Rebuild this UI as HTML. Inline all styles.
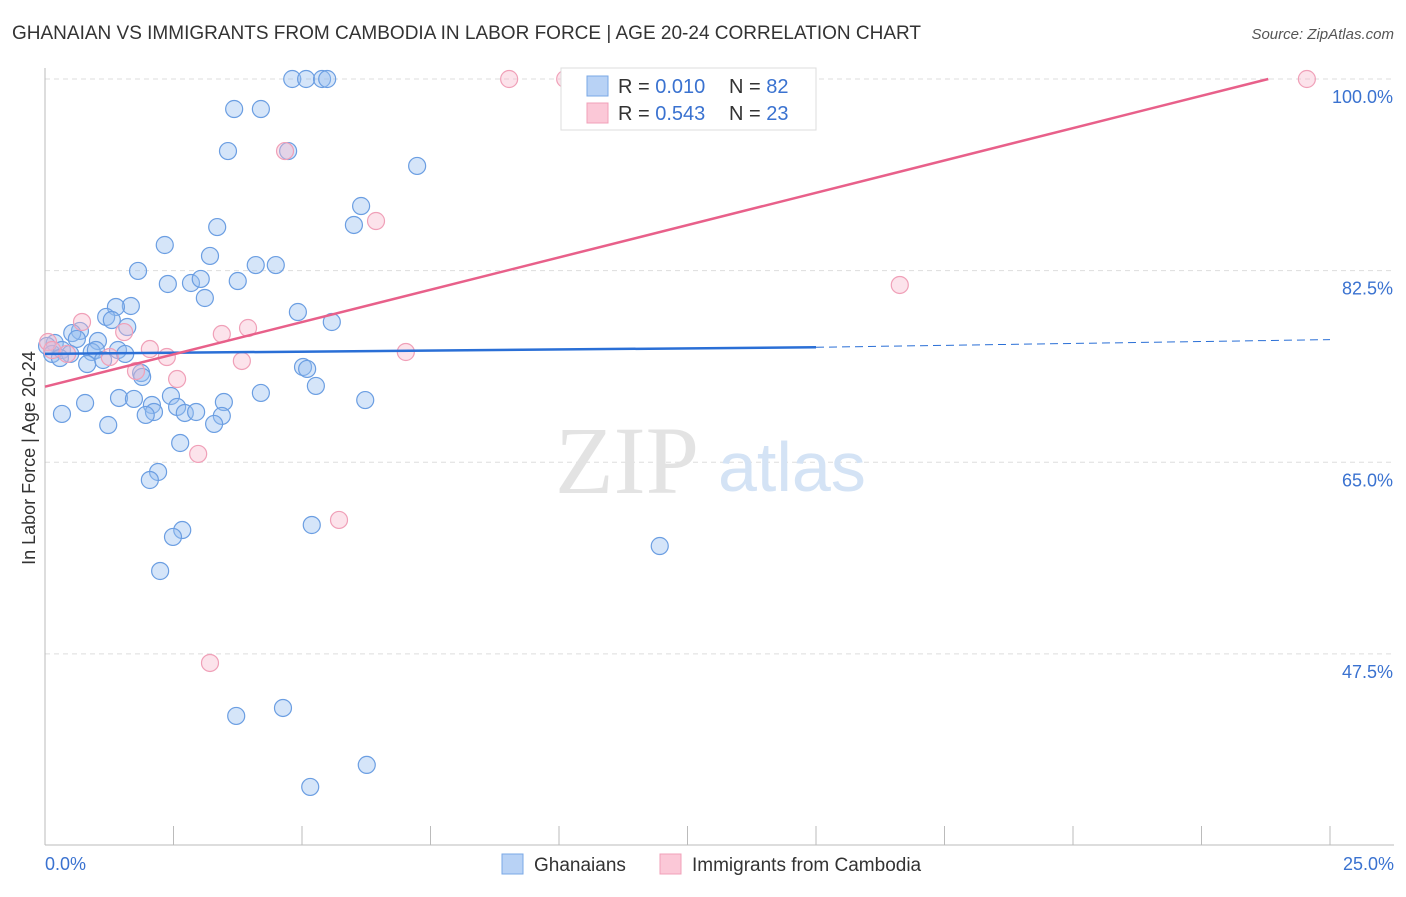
<!DOCTYPE html>
<html><head><meta charset="utf-8"><style>
body{margin:0;background:#fff;font-family:"Liberation Sans",sans-serif;}
svg text{font-family:"Liberation Sans",sans-serif;}
</style></head><body>
<svg id="chart" width="1406" height="892">
<text x="12" y="39" font-size="19" fill="#333">GHANAIAN VS IMMIGRANTS FROM CAMBODIA IN LABOR FORCE | AGE 20-24 CORRELATION CHART</text>
<text x="1394" y="39" font-size="15" fill="#555" font-style="italic" text-anchor="end">Source: ZipAtlas.com</text>
<text x="35" y="458" font-size="18" fill="#333" text-anchor="middle" transform="rotate(-90 35 458)">In Labor Force | Age 20-24</text>
<g id="grid"></g><g id="xt"></g>
<text x="555" y="493" font-size="96" fill="#e3e3e3" style="font-family:'Liberation Serif',serif">ZIP</text>
<text x="718" y="491" font-size="70" fill="#d4e3f5">atlas</text>
<g id="pts"></g><g id="lines"></g>
<g>
<rect x="561" y="68" width="255" height="62" fill="#fff" stroke="#ddd"/>
<rect x="587" y="76" width="21" height="20" fill="#b8d2f5" stroke="#7aa8e6"/>
<text x="618" y="93" font-size="20" fill="#333">R = <tspan fill="#3a72d0">0.010</tspan></text>
<text x="729" y="93" font-size="20" fill="#333">N = <tspan fill="#3a72d0">82</tspan></text>
<rect x="587" y="103" width="21" height="20" fill="#fbc8d7" stroke="#f0a0b8"/>
<text x="618" y="120" font-size="20" fill="#333">R = <tspan fill="#3a72d0">0.543</tspan></text>
<text x="729" y="120" font-size="20" fill="#333">N = <tspan fill="#3a72d0">23</tspan></text>
</g>
<g>
<rect x="502" y="854" width="21" height="20" fill="#b8d2f5" stroke="#7aa8e6"/>
<text x="534" y="871" font-size="19" fill="#333">Ghanaians</text>
<rect x="660" y="854" width="21" height="20" fill="#fbc8d7" stroke="#f0a0b8"/>
<text x="692" y="871" font-size="19" fill="#333">Immigrants from Cambodia</text>
</g>
<text x="45" y="870" font-size="18" fill="#3a72d0">0.0%</text>
<text x="1394" y="870" font-size="18" fill="#3a72d0" text-anchor="end">25.0%</text>
</svg>
<script>
const yTicks=[100,82.5,65,47.5];
const yTickLabels=["100.0%","82.5%","65.0%","47.5%"];
const xTicks=[0,2.5,5,7.5,10,12.5,15,17.5,20,22.5,25];
const blueX=[4.81,5.08,5.39,5.49,3.68,4.20,3.56,4.73,7.24,6.15,6.01,3.35,2.33,3.21,1.81,2.39,2.84,3.03,4.10,4.49,3.75,3.11,1.67,1.38,4.92,1.19,1.30,1.60,5.58,0.68,0.53,1.03,0.62,0.19,0.04,0.14,0.33,0.49,0.91,0.99,1.42,1.56,1.13,0.29,0.82,5.02,5.10,1.87,1.89,5.27,4.20,1.44,1.73,2.45,2.08,2.57,2.12,1.96,2.72,2.94,3.48,3.44,6.23,0.78,0.33,1.23,3.29,2.63,2.20,2.04,2.67,2.49,5.19,11.96,2.24,3.72,4.63,6.26,5.16];
const blueY=[100,100,100,100,97.26,97.26,93.42,93.42,92.06,88.40,86.67,86.48,84.84,83.84,82.47,81.28,81.37,81.74,83.01,83.01,81.55,80.00,79.27,79.18,78.72,78.27,77.99,77.35,77.81,76.99,76.80,76.07,76.26,75.89,75.62,74.89,75.25,74.89,75.07,75.25,75.25,74.89,74.34,74.52,73.97,73.70,73.52,73.15,72.79,71.97,71.33,70.87,70.78,71.05,70.23,70.05,69.59,69.32,69.50,69.59,70.50,69.23,70.68,70.41,69.41,68.40,68.50,66.76,64.11,63.38,58.81,58.18,59.27,57.35,55.07,41.83,42.56,37.36,35.35];
const pinkX=[9.03,10.12,24.55,4.67,6.44,16.63,0.72,1.54,0.06,0.14,0.43,2.04,2.37,3.44,3.95,3.83,7.02,1.77,2.57,2.98,5.72,3.21,1.26];
const pinkY=[100,100,100,93.42,87.03,81.19,77.81,76.89,75.98,75.25,74.89,75.34,74.61,76.71,77.26,74.25,75.07,73.33,72.60,65.76,59.73,46.67,74.61];
const blueTrend=[[0,74.9],[15,75.5],[25,76.2]];
const pinkTrend=[[0,71.9],[23.8,100]];
const X=v=>45+v/25*1285, Y=v=>79+(100-v)*10.95;
const NS="http://www.w3.org/2000/svg";
function mk(t,a,p){const e=document.createElementNS(NS,t);for(const k in a)e.setAttribute(k,a[k]);p.appendChild(e);return e;}
const grid=document.getElementById('grid');
yTicks.forEach((t,i)=>{
 const l=mk('line',{x1:45,x2:1394,y1:Y(t),y2:Y(t),stroke:'#ddd','stroke-dasharray':'5,4'},grid);
 
 
 const tx=mk('text',{x:1393,y:Y(t)+24,'font-size':18,fill:'#3a72d0','text-anchor':'end'},grid);
 tx.textContent=yTickLabels[i];
 
 
});
const xt=document.getElementById('xt');
mk('line',{x1:45,x2:45,y1:68,y2:845,stroke:'#bbb'},xt);
mk('line',{x1:45,x2:1394,y1:845,y2:845,stroke:'#bbb'},xt);
xTicks.forEach(t=>{const l=mk('line',{x1:X(t),x2:X(t),y1:826,y2:845,stroke:'#bbb'},xt);
 
 });
const pts=document.getElementById('pts');
blueX.forEach((v,i)=>{const c=mk('circle',{cx:X(v),cy:Y(blueY[i]),r:8.5,fill:'rgba(150,190,240,0.4)',stroke:'#6b9ee2','stroke-width':1.2},pts);
 
 });
pinkX.forEach((v,i)=>{const c=mk('circle',{cx:X(v),cy:Y(pinkY[i]),r:8.5,fill:'rgba(248,185,205,0.4)',stroke:'#f0a0b8','stroke-width':1.2},pts);
 
 });
const lines=document.getElementById('lines');
const b1=mk('line',{x1:X(blueTrend[0][0]),y1:Y(blueTrend[0][1]),x2:X(blueTrend[1][0]),y2:Y(blueTrend[1][1]),stroke:'#2a6fd6','stroke-width':2.5},lines);


const b2=mk('line',{x1:X(blueTrend[1][0]),y1:Y(blueTrend[1][1]),x2:X(blueTrend[2][0]),y2:Y(blueTrend[2][1]),stroke:'#2a6fd6','stroke-width':1,'stroke-dasharray':'8,5'},lines);


const p1=mk('line',{x1:X(pinkTrend[0][0]),y1:Y(pinkTrend[0][1]),x2:X(pinkTrend[1][0]),y2:Y(pinkTrend[1][1]),stroke:'#e8608a','stroke-width':2.5},lines);


</script>
</body></html>
